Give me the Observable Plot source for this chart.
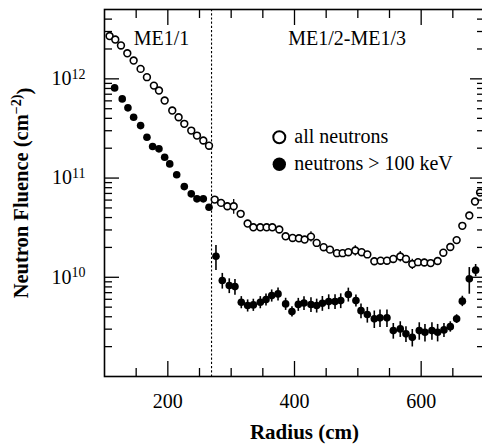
<!DOCTYPE html>
<html>
<head>
<meta charset="utf-8">
<script src="https://cdn.jsdelivr.net/npm/d3@7"></script>
<script src="https://cdn.jsdelivr.net/npm/@observablehq/plot@0.6"></script>
<style>
  html, body { margin: 0; padding: 0; background: #fff; overflow: hidden; }
  svg { display: block; }
</style>
</head>
<body>
<div id="chart"></div>
<script>
// ---- Data ----
// ME1/1 region
const radiusAll1 = [108, 117, 126, 136, 146, 157, 167, 178, 186, 195, 207, 217, 226, 237, 246, 256, 265];
const allNeutrons1 = [2.7e12, 2.49e12, 2.17e12, 1.81e12, 1.53e12, 1.26e12, 1.04e12, 8.55e11, 7.62e11, 6.04e11, 4.79e11, 4.10e11, 3.52e11, 3.01e11, 2.68e11, 2.39e11, 2.12e11];
const radiusFast1 = [116, 128, 137, 146, 157, 167, 176, 186, 195, 203, 214, 226, 237, 246, 256, 265];
const fastNeutrons1 = [8.11e11, 6.28e11, 5.10e11, 4.10e11, 3.38e11, 2.58e11, 2.08e11, 1.97e11, 1.62e11, 1.39e11, 1.08e11, 8.2e10, 6.93e10, 6.17e10, 6.17e10, 5.08e10];

// ME1/2-ME1/3 region
const radiusAll2 = [274, 284, 294, 304, 315, 326, 335, 346, 356, 365, 376, 386, 397, 407, 416, 426, 435, 446, 456, 467, 476, 485, 496, 506, 515, 526, 536, 546, 556, 567, 576, 586, 595, 605, 615, 626, 635, 646, 656, 665, 676, 685, 693];
const allNeutrons2 = [6.07e10, 5.62e10, 5.20e10, 5.20e10, 4.36e10, 3.48e10, 3.19e10, 3.19e10, 3.19e10, 3.19e10, 3.03e10, 2.59e10, 2.49e10, 2.47e10, 2.40e10, 2.57e10, 2.22e10, 2.01e10, 1.90e10, 1.75e10, 1.75e10, 1.79e10, 1.86e10, 1.79e10, 1.70e10, 1.45e10, 1.47e10, 1.47e10, 1.53e10, 1.62e10, 1.53e10, 1.36e10, 1.42e10, 1.41e10, 1.39e10, 1.46e10, 1.77e10, 2.02e10, 2.37e10, 3.30e10, 4.19e10, 5.80e10, 7.14e10];
const allErr2 = [0.06, 0.06, 0.08, 0.17, 0.06, 0.06, 0.06, 0.06, 0.06, 0.06, 0.06, 0.06, 0.06, 0.06, 0.06, 0.12, 0.06, 0.06, 0.06, 0.06, 0.06, 0.06, 0.12, 0.06, 0.06, 0.06, 0.06, 0.06, 0.08, 0.12, 0.08, 0.12, 0.08, 0.08, 0.08, 0.06, 0.06, 0.06, 0.06, 0.06, 0.06, 0.06, 0.06];
const radiusFast2 = [276, 286, 297, 306, 316, 326, 335, 346, 355, 364, 374, 386, 396, 406, 415, 426, 435, 444, 454, 464, 473, 485, 497, 505, 515, 526, 535, 546, 556, 567, 576, 586, 597, 606, 617, 626, 636, 646, 656, 665, 676, 686];
const fastNeutrons2 = [1.63e10, 9.27e9, 8.25e9, 8.06e9, 5.60e9, 5.19e9, 5.27e9, 5.60e9, 5.96e9, 6.54e9, 6.80e9, 5.39e9, 4.51e9, 5.33e9, 5.50e9, 5.31e9, 5.19e9, 5.47e9, 5.69e9, 5.69e9, 5.82e9, 6.70e9, 5.82e9, 4.61e9, 4.21e9, 3.81e9, 3.90e9, 3.90e9, 2.90e9, 3.02e9, 2.69e9, 2.48e9, 2.90e9, 2.79e9, 2.90e9, 2.79e9, 2.95e9, 3.18e9, 3.81e9, 5.75e9, 9.64e9, 1.18e10];
const fastErr2 = [0.28, 0.18, 0.17, 0.18, 0.14, 0.14, 0.14, 0.14, 0.14, 0.14, 0.15, 0.14, 0.12, 0.15, 0.16, 0.17, 0.16, 0.17, 0.17, 0.17, 0.17, 0.16, 0.14, 0.17, 0.18, 0.2, 0.2, 0.2, 0.18, 0.18, 0.18, 0.2, 0.2, 0.2, 0.2, 0.2, 0.16, 0.12, 0.1, 0.12, 0.3, 0.14];

// chamber boundary
const boundaryRadius = [269];

// axes ticks
const xMajorTicks = [200, 400, 600];
const xMinorTicks = [150, 250, 300, 350, 450, 500, 550, 650];
const yMajorTicks = [1e10, 1e11, 1e12];
const yMinorTicks = [2e9, 3e9, 4e9, 5e9, 6e9, 7e9, 8e9, 9e9, 2e10, 3e10, 4e10, 5e10, 6e10, 7e10, 8e10, 9e10, 2e11, 3e11, 4e11, 5e11, 6e11, 7e11, 8e11, 9e11, 2e12, 3e12, 4e12];

// annotations (data coordinates)
const regionLabels = [
  {label: "ME1/1", r: 190, f: 2.17e12},
  {label: "ME1/2-ME1/3", r: 483, f: 2.17e12}
];
const legendItems = [
  {label: "all neutrons", r: 376, f: 2.58e11, filled: false},
  {label: "neutrons > 100 keV", r: 376, f: 1.38e11, filled: true}
];
const xLabel = "Radius (cm)";
const yLabel = "Neutron Fluence (cm^-2)";

// ---- tables built from the arrays ----
const all = radiusAll1.map((r, i) => ({r, f: allNeutrons1[i]}))
  .concat(radiusAll2.map((r, i) => ({r, f: allNeutrons2[i], e: allErr2[i]})));
const fast = radiusFast1.map((r, i) => ({r, f: fastNeutrons1[i]}))
  .concat(radiusFast2.map((r, i) => ({r, f: fastNeutrons2[i], e: fastErr2[i]})));
const allErrBars = all.filter(d => d.e);
const fastErrBars = fast.filter(d => d.e);

const ink = "#000";
const plot = Plot.plot({
  width: 482,
  height: 446,
  marginLeft: 104,
  marginRight: -2,
  marginTop: 9,
  marginBottom: 70,
  style: {fontFamily: "'Liberation Serif', 'Times New Roman', serif", fontSize: "20px", color: ink, background: "#fff"},
  x: {domain: [100, 700]},
  y: {type: "log", domain: [1e9, 5e12]},
  marks: [
    Plot.ruleX(boundaryRadius, {stroke: ink, strokeWidth: 1.1, strokeDasharray: "2.2,2"}),
    Plot.ruleX(fastErrBars, {x: "r", y1: d => d.f * (1 - d.e), y2: d => d.f * (1 + d.e), stroke: ink, strokeWidth: 1.6}),
    Plot.ruleX(allErrBars, {x: "r", y1: d => d.f * (1 - d.e), y2: d => d.f * (1 + d.e), stroke: ink, strokeWidth: 1.3}),
    Plot.dot(all, {x: "r", y: "f", r: 3.4, stroke: ink, strokeWidth: 1.6, fill: "#fff"}),
    Plot.dot(fast, {x: "r", y: "f", r: 3.8, fill: ink, stroke: null}),
    Plot.frame({stroke: ink, strokeWidth: 1.6}),
    // tick marks, pointing inward, on all four sides
    Plot.axisX({ticks: xMajorTicks, anchor: "bottom", tickSize: -15, fill: "none", stroke: ink, strokeWidth: 1.3, label: null}),
    Plot.axisX({ticks: xMinorTicks, anchor: "bottom", tickSize: -8, fill: "none", stroke: ink, strokeWidth: 1.3, label: null}),
    Plot.axisX({ticks: xMajorTicks, anchor: "top", tickSize: -15, fill: "none", stroke: ink, strokeWidth: 1.3, label: null}),
    Plot.axisX({ticks: xMinorTicks, anchor: "top", tickSize: -8, fill: "none", stroke: ink, strokeWidth: 1.3, label: null}),
    Plot.axisY({ticks: yMajorTicks, anchor: "left", tickSize: -15, fill: "none", stroke: ink, strokeWidth: 1.3, label: null}),
    Plot.axisY({ticks: yMinorTicks, anchor: "left", tickSize: -8, fill: "none", stroke: ink, strokeWidth: 1.3, label: null}),
    Plot.axisY({ticks: yMajorTicks, anchor: "right", tickSize: -15, fill: "none", stroke: ink, strokeWidth: 1.3, label: null}),
    Plot.axisY({ticks: yMinorTicks, anchor: "right", tickSize: -8, fill: "none", stroke: ink, strokeWidth: 1.3, label: null}),
    // tick labels
    Plot.axisX({ticks: xMajorTicks, anchor: "bottom", tickSize: 0, tickPadding: 17, fontSize: 20, fill: ink, label: null}),
    Plot.axisY({ticks: yMajorTicks, anchor: "left", tickSize: 0, tickPadding: 19, fontSize: 20, fill: ink, label: null,
      tickFormat: d => `10^${Math.round(Math.log10(d))}`}),
    // axis titles
    Plot.text([xLabel], {frameAnchor: "bottom", dy: 56, dx: 10, text: d => d, fontWeight: "bold", fontSize: 21, fill: ink, textAnchor: "middle", lineAnchor: "middle"}),
    Plot.text([yLabel], {frameAnchor: "left", dx: -83, text: d => d, rotate: -90, fontWeight: "bold", fontSize: 20.5, fill: ink, textAnchor: "middle", lineAnchor: "middle"}),
    // region labels
    Plot.text(regionLabels, {x: "r", y: "f", text: "label", fontSize: 20, fill: ink, lineAnchor: "bottom"}),
    // legend
    Plot.dot(legendItems.filter(d => !d.filled), {x: "r", y: "f", r: 6, stroke: ink, strokeWidth: 2, fill: "#fff"}),
    Plot.dot(legendItems.filter(d => d.filled), {x: "r", y: "f", r: 6.7, fill: ink, stroke: null}),
    Plot.text(legendItems, {x: "r", y: "f", text: "label", dx: 15, dy: -1, textAnchor: "start", lineAnchor: "middle", fontSize: 20, fill: ink})
  ]
});

// superscripts
const svg = d3.select(plot);
svg.selectAll('g[aria-label="y-axis tick label"] text').each(function () {
  const [b, e] = this.textContent.split("^");
  if (e === undefined) return;
  const t = d3.select(this);
  t.text(b);
  t.append("tspan").attr("dy", "-0.45em").attr("font-size", "14px").text(e);
});
svg.selectAll("text").filter(function () { return this.textContent === yLabel; }).each(function () {
  const [b, e] = this.textContent.split("^");
  const t = d3.select(this);
  t.text(b);
  t.append("tspan").attr("dy", "-0.5em").attr("font-size", "14px").text(e.replace("-", "\u2212"));
  t.append("tspan").attr("dy", "0.5em").text(")");
});

document.getElementById("chart").appendChild(plot);
</script>
</body>
</html>
